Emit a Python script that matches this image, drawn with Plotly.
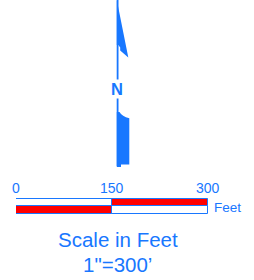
import plotly.graph_objects as go

# ---- data ----
scale_ticks = [0, 150, 300]
tick_labels = ["0", "150", "300"]
segment_starts = [0, 150]
segment_lengths = [150, 150]
top_row_colors = ["#ffffff", "#ff0000"]
bottom_row_colors = ["#ff0000", "#ffffff"]
unit_label = "Feet"
title_text = "Scale in Feet"
ratio_text = "1\"=300’"
north_label = "N"

BLUE = "#1877ff"
FONT = "Arial, Liberation Sans, sans-serif"
W, H = 254, 280

fig = go.Figure()

# scale bar rows (y axis in pixel units, top-down)
row_y = [202.9, 210.0]
row_h = 7.1
for colors, yy in ((top_row_colors, row_y[0]), (bottom_row_colors, row_y[1])):
    for s, L, c in zip(segment_starts, segment_lengths, colors):
        fig.add_trace(go.Bar(
            orientation="h", y=[yy], x=[L], base=[s], width=row_h,
            marker=dict(color=c, line=dict(color=BLUE, width=1)),
            hoverinfo="skip", showlegend=False))

# tick labels
for v, t in zip(scale_ticks, tick_labels):
    fig.add_annotation(x=v, y=188, xref="x", yref="y", text=t, showarrow=False,
                       font=dict(family=FONT, size=14, color=BLUE),
                       xanchor="center", yanchor="middle")

fig.add_annotation(x=212, y=207.5, xref="x2", yref="y", text=unit_label, showarrow=False,
                   font=dict(family=FONT, size=13.5, color=BLUE),
                   xanchor="left", yanchor="middle")

fig.add_annotation(x=117.5, y=239, xref="x2", yref="y", text=title_text, showarrow=False,
                   font=dict(family=FONT, size=20.5, color=BLUE),
                   xanchor="center", yanchor="middle")
fig.add_annotation(x=117, y=264.5, xref="x2", yref="y", text=ratio_text, showarrow=False,
                   font=dict(family=FONT, size=20.5, color=BLUE),
                   xanchor="center", yanchor="middle")

# north arrow (decorative, pixel coords on x2/y)
shapes = []
shapes.append(dict(type="line", xref="x2", yref="y", x0=117.6, x1=117.6, y0=0, y1=166,
                   line=dict(color=BLUE, width=1.8)))
shapes.append(dict(type="path", xref="x2", yref="y",
                   path="M 116.8 0 L 128.3 57.5 L 120.2 50.5 L 120.2 47.5 L 118.4 45 L 116.8 45 Z",
                   fillcolor=BLUE, line=dict(width=0)))
shapes.append(dict(type="path", xref="x2", yref="y",
                   path="M 116.8 112 L 119.5 112 Q 122 116.5 129.3 118.3 L 129.3 164.5 L 121 164.5 L 121 167 L 116.8 167 Z",
                   fillcolor=BLUE, line=dict(width=0)))
fig.update_layout(shapes=shapes)

fig.add_annotation(x=117.3, y=89, xref="x2", yref="y", text="<b>" + north_label + "</b>", showarrow=False,
                   font=dict(family=FONT, size=16.5, color=BLUE),
                   xanchor="center", yanchor="middle", bgcolor="rgba(255,255,255,1)",
                   borderpad=0)

fig.update_layout(
    width=W, height=H, margin=dict(l=0, r=0, t=0, b=0),
    paper_bgcolor="white", plot_bgcolor="rgba(0,0,0,0)",
    barmode="overlay", bargap=0,
    xaxis=dict(domain=[16 / W, 208.3 / W], range=[0, 300], visible=False, fixedrange=True),
    xaxis2=dict(domain=[0, 1], range=[0, W], visible=False, anchor="y"),
    yaxis=dict(domain=[0, 1], range=[H, 0], visible=False),
    showlegend=False,
)

fig.write_html("out.html", config={"displayModeBar": False},
               post_script="document.body.style.margin='0px';")
